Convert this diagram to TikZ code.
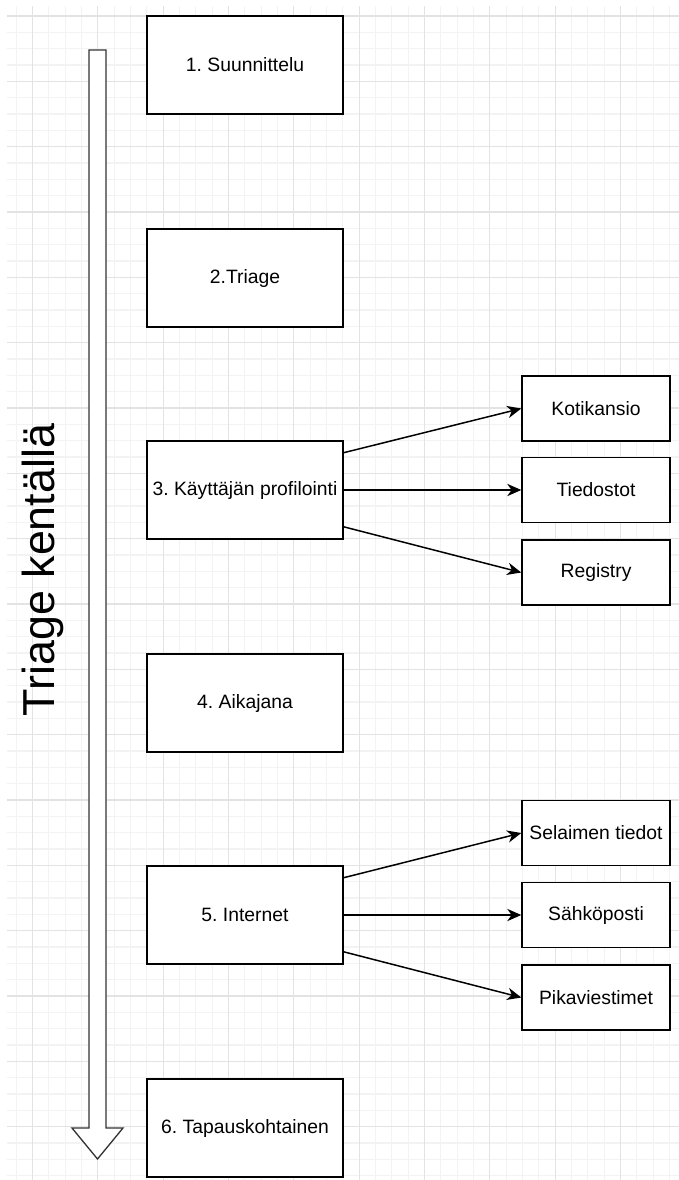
\documentclass[tikz,border=0pt]{standalone}
\usepackage{fontspec}
\setmainfont{Liberation Sans}
\frenchspacing
\usetikzlibrary{arrows.meta,calc}
\definecolor{minorgrid}{HTML}{F3F3F3}
\definecolor{majorgrid}{HTML}{E3E3E3}
\tikzset{stage/.style={rectangle,draw=black,fill=white,line width=.85pt,minimum width=3.92cm,minimum height=1.96cm,inner sep=1pt,font=\fontsize{11}{13}\selectfont},
  item/.style={rectangle,draw=black,fill=white,line width=.85pt,minimum width=2.96cm,minimum height=1.3cm,inner sep=1pt,font=\fontsize{11}{13}\selectfont},
  link/.style={line width=.85pt,-{Stealth[length=8pt,width=7pt,inset=2.5pt]}}}
\begin{document}
\begin{tikzpicture}[x=0.02cm,y=-0.02cm]
  \useasboundingbox (0,0) rectangle (679,1180);
  % grid
  \foreach \i in {0,...,41} \draw[minorgrid,line width=.6pt] ({16.2+16.333*\i},6) -- ({16.2+16.333*\i},1180);
  \foreach \j in {0,...,71} \draw[minorgrid,line width=.6pt] (7,{16+16.333*\j}) -- (679,{16+16.333*\j});
  \foreach \i in {0,...,9} \draw[majorgrid,line width=.75pt] ({32.5+65.333*\i},6) -- ({32.5+65.333*\i},1180);
  \foreach \j in {0,...,17} \draw[majorgrid,line width=.75pt] (7,{16+65.333*\j}) -- (679,{16+65.333*\j});
  % time arrow
  \draw[fill=white,draw=black!80,line width=.75pt] (89,50) -- (106,50) -- (106,1128) -- (123,1128) -- (97.5,1159) -- (72,1128) -- (89,1128) -- cycle;
  \node[rotate=90,font=\fontsize{25.5}{28}\selectfont] (title) at (43,570) {Triage kentällä};
  % stages
  \node[stage] (p1) at (245,65) {1. Suunnittelu};
  \node[stage] (p2) at (245,278) {2.Triage};
  \node[stage] (p3) at (245,490) {3. Käyttäjän profilointi};
  \node[stage] (p4) at (245,703) {4. Aikajana};
  \node[stage] (p5) at (245,915) {5. Internet};
  \node[stage] (p6) at (245,1128) {6. Tapauskohtainen};
  \node[item] (k1) at (596,408.5) {Kotikansio};
  \node[item] (k2) at (596,490) {Tiedostot};
  \node[item] (k3) at (596,572.5) {Registry};
  \node[item] (s1) at (596,833) {Selaimen tiedot};
  \node[item] (s2) at (596,915) {Sähköposti};
  \node[item] (s3) at (596,997.5) {Pikaviestimet};
  \draw[link] ($(p3.north east)!.125!(p3.south east)$) -- (k1.west);
  \draw[link] (p3.east) -- (k2.west);
  \draw[link] ($(p3.north east)!.87!(p3.south east)$) -- (k3.west);
  \draw[link] ($(p5.north east)!.125!(p5.south east)$) -- (s1.west);
  \draw[link] (p5.east) -- (s2.west);
  \draw[link] ($(p5.north east)!.87!(p5.south east)$) -- (s3.west);
\end{tikzpicture}
\end{document}
